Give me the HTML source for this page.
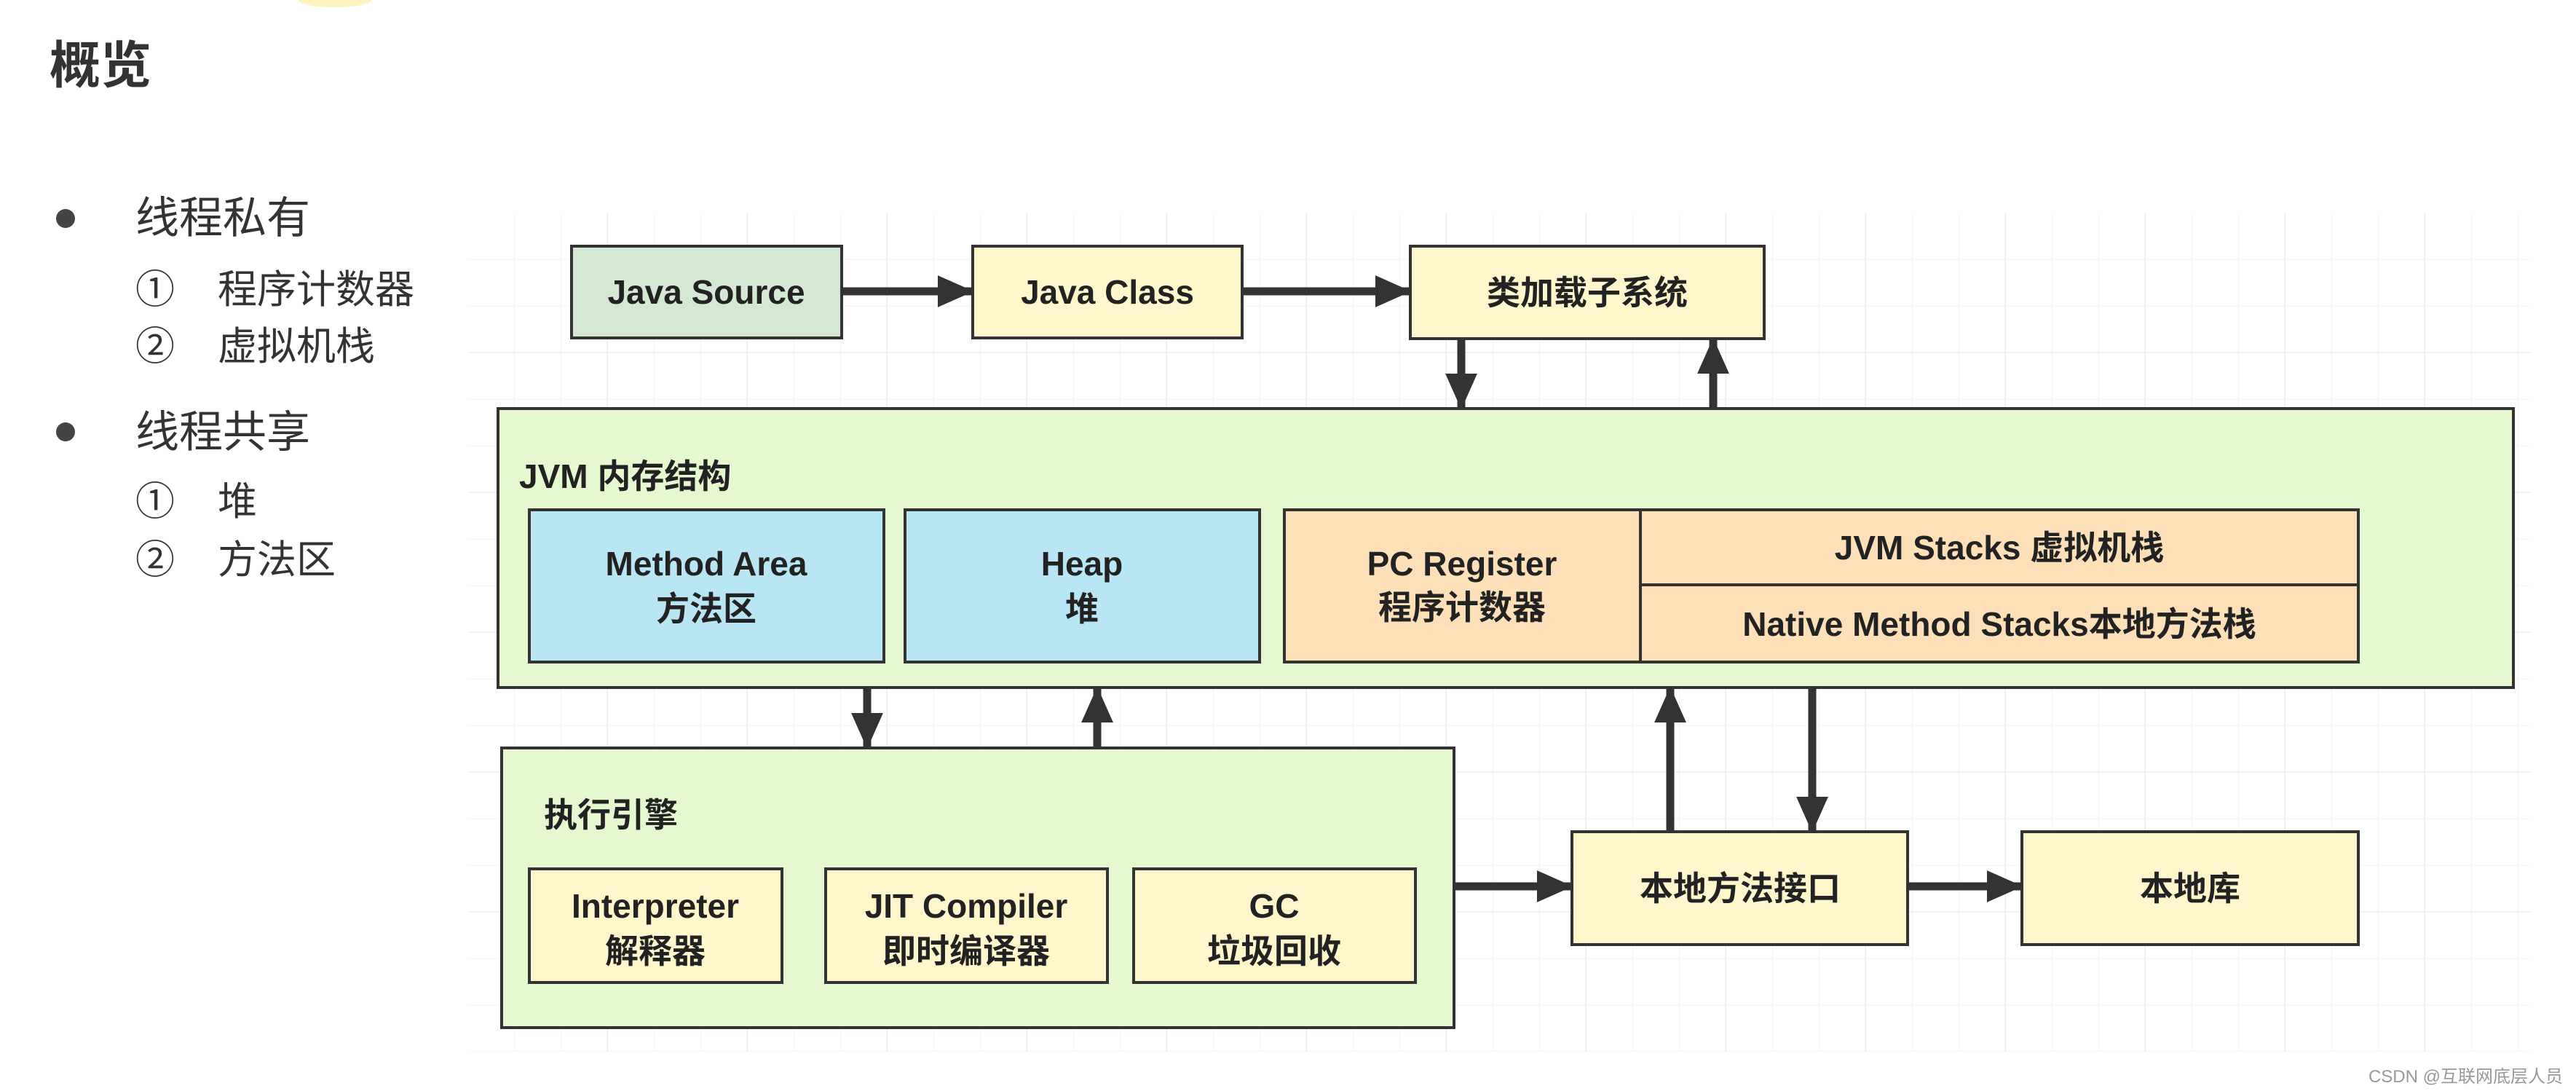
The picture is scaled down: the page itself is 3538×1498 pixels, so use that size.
<!DOCTYPE html>
<html><head><meta charset="utf-8"><style>
html,body{margin:0;padding:0;background:#fff;}
svg{display:block;}
text{font-family:"Liberation Sans","Noto Sans CJK SC",sans-serif;}
</style></head><body>
<svg width="3538" height="1498" viewBox="0 0 3538 1498" xmlns="http://www.w3.org/2000/svg">
<defs>
<pattern id="g" x="643" y="293" width="64" height="64" patternUnits="userSpaceOnUse">
<path d="M64 0 V64 M0 64 H64" stroke="#f4f4f4" stroke-width="2" fill="none"/>
</pattern>
<pattern id="G" x="643" y="293" width="192" height="192" patternUnits="userSpaceOnUse">
<path d="M192 0 V192 M0 192 H192" stroke="#ececec" stroke-width="3" fill="none"/>
</pattern>
<marker id="a" markerWidth="4.5" markerHeight="4" refX="4.2" refY="2" orient="auto" markerUnits="strokeWidth">
<path d="M0,0 L4.5,2 L0,4 z" fill="#333"/>
</marker>
</defs>
<ellipse cx="460" cy="0" rx="50" ry="10" fill="#fdf3c0"/>
<rect x="643" y="293" width="2832" height="1151" fill="url(#g)"/>
<rect x="643" y="293" width="2832" height="1151" fill="url(#G)"/>

<text x="68" y="114" font-size="70" font-weight="bold" fill="#333">概览</text>
<circle cx="90" cy="300" r="13" fill="#444"/>
<text x="186" y="320" font-size="60" fill="#333">线程私有</text>
<text x="186" y="416" font-size="54" fill="#333">①</text>
<text x="299" y="416" font-size="54" fill="#333">程序计数器</text>
<text x="186" y="494" font-size="54" fill="#333">②</text>
<text x="299" y="494" font-size="54" fill="#333">虚拟机栈</text>
<circle cx="90" cy="593" r="13" fill="#444"/>
<text x="186" y="614" font-size="60" fill="#333">线程共享</text>
<text x="186" y="707" font-size="54" fill="#333">①</text>
<text x="299" y="707" font-size="54" fill="#333">堆</text>
<text x="186" y="787" font-size="54" fill="#333">②</text>
<text x="299" y="787" font-size="54" fill="#333">方法区</text>

<g stroke="#333" stroke-width="4">
<rect x="785" y="338" width="371" height="126" fill="#d5e8d4"/>
<rect x="1336" y="338" width="370" height="126" fill="#fff7cc"/>
<rect x="1937" y="338" width="486" height="127" fill="#fff7cc"/>
<rect x="684" y="561" width="2768" height="383" fill="#e6f8cf"/>
<rect x="727" y="700" width="487" height="209" fill="#b8e6f5"/>
<rect x="1243" y="700" width="487" height="209" fill="#b8e6f5"/>
<rect x="1764" y="700" width="489" height="209" fill="#fde0b8"/>
<rect x="2253" y="700" width="986" height="103" fill="#fde0b8"/>
<rect x="2253" y="803" width="986" height="106" fill="#fde0b8"/>
<rect x="689" y="1027" width="1308" height="384" fill="#e6f8cf"/>
<rect x="727" y="1193" width="347" height="156" fill="#fff7cc"/>
<rect x="1134" y="1193" width="387" height="156" fill="#fff7cc"/>
<rect x="1557" y="1193" width="387" height="156" fill="#fff7cc"/>
<rect x="2159" y="1142" width="461" height="155" fill="#fff7cc"/>
<rect x="2777" y="1142" width="462" height="155" fill="#fff7cc"/>
</g>

<g stroke="#333" stroke-width="11" marker-end="url(#a)">
<line x1="1156" y1="400" x2="1334" y2="400"/>
<line x1="1706" y1="400" x2="1935" y2="400"/>
<line x1="2007" y1="465" x2="2007" y2="559"/>
<line x1="2353" y1="561" x2="2353" y2="467"/>
<line x1="1191" y1="944" x2="1191" y2="1025"/>
<line x1="1507" y1="1027" x2="1507" y2="946"/>
<line x1="2294" y1="1142" x2="2294" y2="946"/>
<line x1="2489" y1="944" x2="2489" y2="1140"/>
<line x1="1997" y1="1217" x2="2157" y2="1217"/>
<line x1="2620" y1="1217" x2="2775" y2="1217"/>
</g>

<g font-size="46" font-weight="bold" fill="#222" text-anchor="middle">
<text x="970" y="417">Java Source</text>
<text x="1521" y="417">Java Class</text>
<text x="2180" y="418">类加载子系统</text>
<text x="970" y="790">Method Area</text>
<text x="970" y="852">方法区</text>
<text x="1486" y="790">Heap</text>
<text x="1486" y="852">堆</text>
<text x="2008" y="790">PC Register</text>
<text x="2008" y="850">程序计数器</text>
<text x="2746" y="768">JVM Stacks 虚拟机栈</text>
<text x="2746" y="873">Native Method Stacks本地方法栈</text>
<text x="900" y="1260">Interpreter</text>
<text x="900" y="1322">解释器</text>
<text x="1327" y="1260">JIT Compiler</text>
<text x="1327" y="1322">即时编译器</text>
<text x="1750" y="1260">GC</text>
<text x="1750" y="1322">垃圾回收</text>
<text x="2390" y="1236">本地方法接口</text>
<text x="3008" y="1236">本地库</text>
</g>
<text x="713" y="670" font-size="46" font-weight="bold" fill="#222">JVM 内存结构</text>
<text x="747" y="1135" font-size="46" font-weight="bold" fill="#222">执行引擎</text>
<text x="3520" y="1486" font-size="24" fill="#999" text-anchor="end">CSDN @互联网底层人员</text>
</svg>
</body></html>
